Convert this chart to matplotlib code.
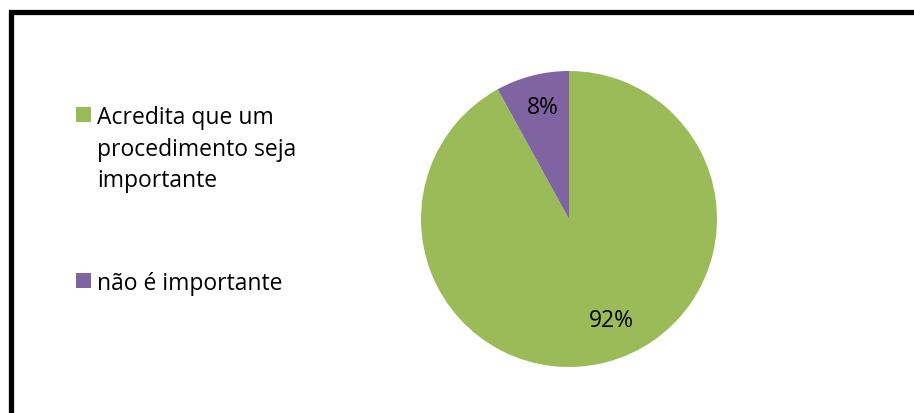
import matplotlib.pyplot as plt
from matplotlib.patches import Rectangle

labels = ["Acredita que um\nprocedimento seja\nimportante", "não é importante"]
values = [92, 8]
colors = ["#9BBB59", "#8064A2"]
pct_labels = [f"{v}%" for v in values]

W, H = 914, 414
fig = plt.figure(figsize=(W / 100, H / 100), dpi=100)
fig.patch.set_facecolor("white")

# black frame (continues past right and bottom edges)
fig.patches.append(Rectangle((10.5 / W, -0.1), 1.2, 1 - 13 / H + 0.1, transform=fig.transFigure,
                             fill=False, edgecolor="black", linewidth=3.8, zorder=0))

# pie
cx, cy, r = 569, 220, 148
ax = fig.add_axes([(cx - r) / W, 1 - (cy + r) / H, 2 * r / W, 2 * r / H])
wedges, _ = ax.pie(values, colors=colors, startangle=90, counterclock=False, radius=1)
label_pos = [(0.285, -0.68), (-0.176, 0.755)]
for t, (lx, ly) in zip(pct_labels, label_pos):
    ax.text(lx, ly, t, fontsize=16.5, family="Open Sans", ha="center", va="center")
ax.set_xlim(-1, 1)
ax.set_ylim(-1, 1)
ax.set_aspect("equal")

# legend
base = [123, 289]
for lab, col, y in zip(labels, colors, base):
    fig.patches.append(Rectangle((76 / W, 1 - y / H), 15 / W, 15 / H,
                                 transform=fig.transFigure, facecolor=col, edgecolor="none"))
    fig.text(97 / W, 1 - (y - 17) / H, lab, fontsize=16.5, family="Open Sans",
             va="top", ha="left", linespacing=1.42)

fig.savefig("out.png", dpi=100)
